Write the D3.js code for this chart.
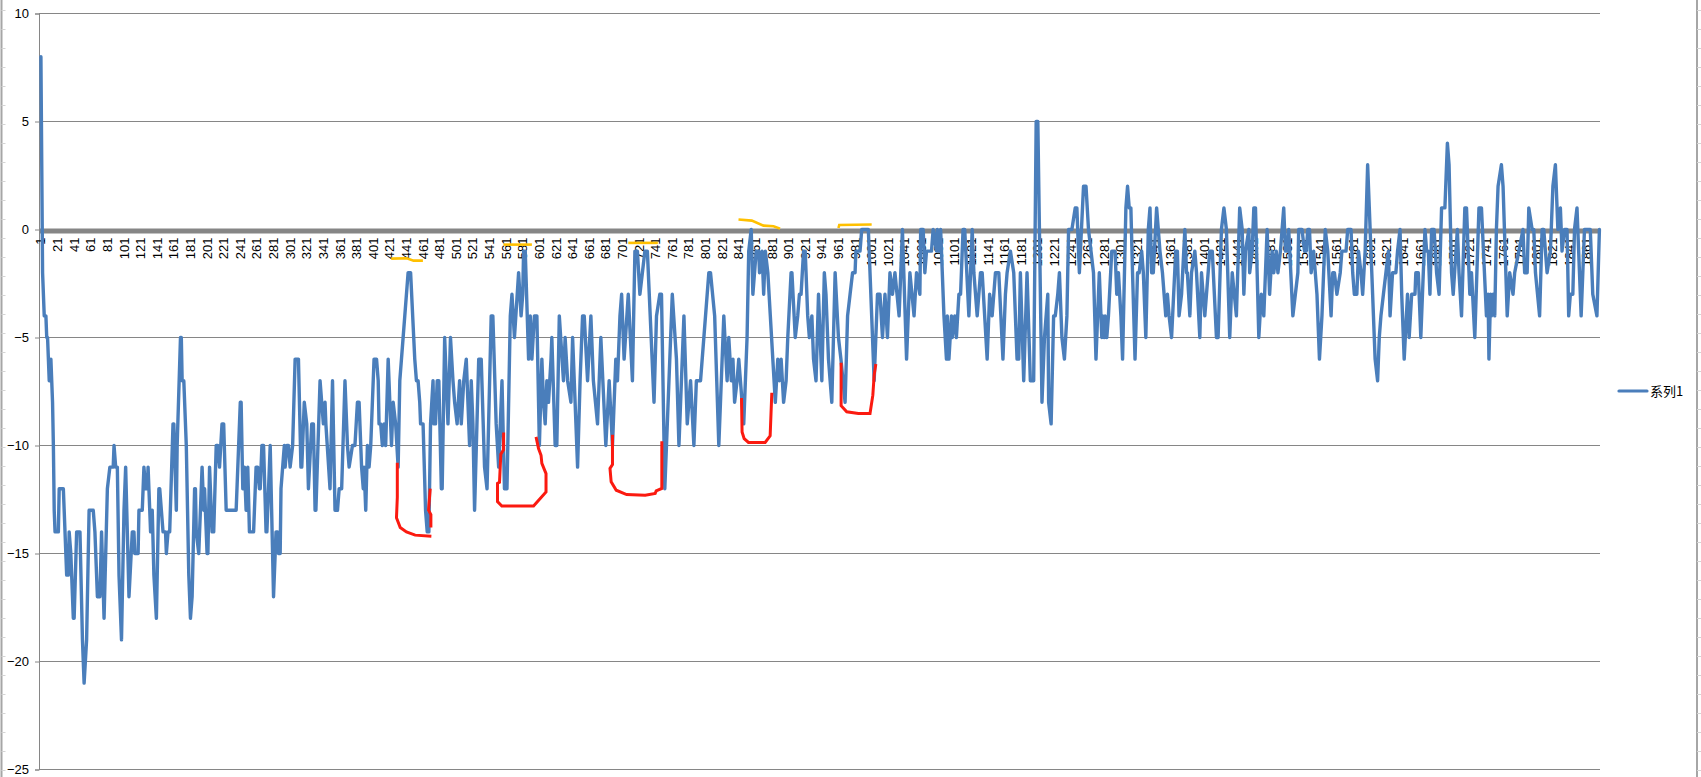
<!DOCTYPE html>
<html lang="zh">
    <head>
	<meta charset="utf-8">
	<title>系列1</title>
	<script type="text/javascript" src="https://d3js.org/d3.v7.min.js"></script>
	<style>
	 html, body { margin: 0; padding: 0; background: #fff; overflow: hidden; }
	 text { font-family: "Liberation Sans", "Noto Sans CJK SC", sans-serif; font-size: 13px; fill: #000; }
	</style>
    </head>
    <body>
	<script type="text/javascript">

	 //Values: the point number of each corner of the line, and its value there
	 const pointIndex = [1,3,5,7,8,9,10,11,13,15,16,17,18,22,23,28,32,34,35,37,40,41,44,48,51,53,56,59,64,66,69,72,74,77,81,84,88,89,91,93,95,98,101,103,107,111,113,114,118,119,123,125,127,129,130,133,135,137,140,143,144,146,148,151,152,154,156,160,161,164,165,169,170,171,173,176,179,181,183,186,187,188,191,193,195,197,198,201,202,204,207,209,212,214,216,219,221,224,236,241,242,244,246,248,250,252,257,260,262,264,265,267,269,272,273,277,281,284,286,287,289,290,294,295,297,299,301,304,307,311,314,315,318,321,323,327,329,331,332,337,339,341,343,344,349,352,355,358,360,363,367,370,372,376,379,382,384,387,389,390,392,394,396,398,402,405,407,408,410,412,414,416,419,421,423,425,428,431,433,437,439,443,446,
	     451,453,455,457,458,461,464,466,468,470,473,474,476,478,480,483,484,487,491,494,497,499,502,505,507,510,513,517,519,521,523,528,531,535,538,543,545,549,552,556,559,562,566,568,571,576,579,581,582,584,588,590,592,595,598,601,604,606,608,610,612,615,616,620,622,625,630,632,635,639,641,647,650,653,655,659,663,666,671,675,681,685,689,693,695,698,700,703,708,713,716,719,722,725,728,731,739,742,746,748,752,755,761,766,769,775,779,783,787,790,795,799,805,807,812,817,
	     823,827,829,832,834,836,839,841,843,847,851,853,856,858,860,862,865,866,869,871,873,876,879,882,885,888,890,892,895,898,900,904,905,909,912,914,916,919,921,924,926,929,931,934,937,941,944,946,949,953,957,961,964,969,972,975,978,981,982,987,989,997,1001,1004,1008,1011,1014,1017,1020,1023,1026,1029,1034,1038,1043,1047,1052,1055,1059,1060,1063,1065,1067,1073,1075,1079,1080,1082,1084,1088,1091,1092,1094,1097,1098,1101,1103,1106,1108,1111,1113,1118,1122,1124,1128,1132,1134,1140,1143,1146,1150,1154,1159,1162,1164,1168,1172,1176,1178,1180,1184,1188,1192,1196,1199,1201,1206,1209,1213,1214,1217,1220,1222,1225,1227,1230,1233,1236,1238,1242,1246,1248,1251,1256,1259,1262,1265,1268,1271,1275,
	     1278,1279,1281,1282,1284,1286,1290,1294,1296,1298,1301,1303,1307,1309,1311,1313,1315,1318,1321,1323,1326,1328,1331,1334,1336,1338,1340,1344,1346,1348,1351,1353,1355,1357,1359,1362,1367,1369,1371,1374,1378,1380,1381,1384,1386,1390,1392,1396,1398,1402,1404,1408,1411,1416,1418,1422,1425,1428,1432,1435,1440,1444,1447,1449,1451,1455,1456,1459,1461,1463,1467,1470,1473,1475,1477,1480,1483,1485,1488,1490,1493,1497,1499,1501,1503,1508,1511,1514,1515,1519,1522,1524,1526,1528,1530,1533,1537,1540,1543,1547,1550,1554,1556,1558,1561,1565,1567,1572,1574,1578,1580,1582,1585,1587,1590,1592,1595,1598,1600,1603,1607,1610,1612,1614,1617,1620,1623,1625,1628,1632,1634,1637,1639,1642,1646,1648,1651,1655,1656,1659,1662,1667,1669,1671,1673,1675,1678,1681,1684,1687,1691,1694,1696,1699,1701,1706,1708,1711,1715,1717,1721,1723,1727,1732,1735,1741,1743,1744,1746,1747,1749,1751,1753,1755,1759,1761,1766,1769,1773,1775,1780,1785,1787,1790,1792,1796,1798,1800,1805,1808,1810,1814,1818,1821,1824,1827,1830,1832,1835,1838,1840,1842,1845,1847,1850,1853,1855,1859,1866,1869,1874,1877];
	 const pointValue = [8,-2,-4,-4,-5,-5,-6,-7,-6,-8,-10,-13,-14,-14,-12,-12,-16,-16,-14,-15,-18,-18,-14,-14,-19,-21,-19,-13,-13,-14,-17,-17,-14,-18,-12,-11,-11,-10,-11,-11,-16,-19,-13,-11,-17,-14,-14,-15,-15,-13,-13,-11,-12,-12,-11,-14,-13,-16,-18,-12,-12,-13,-14,-14,-15,-14,-14,-9,-9,-13,-10,-5,-5,-7,-7,-10,-16,-18,-17,-12,-12,-14,-15,-13,-11,-13,-12,-15,-15,-11,-14,-14,-10,-10,-11,-9,-9,-13,-13,-8,-8,-12,-11,-13,-11,-14,-14,-11,-11,-12,-12,-10,-10,-14,-14,-10,-17,-14,-14,-15,-15,-12,-10,-11,-10,-10,-11,-10,-6,-6,-11,-11,-8,-9,-12,-9,-9,-13,-13,-7,-8,-9,-8,-9,-12,-7,-13,-13,-12,-12,-7,-10,-11,-10,-10,-8,-8,-11,-12,-11,-13,-10,-11,-10,-6,-6,-7,-9,-9,-10,-9,-10,-6,-8,-10,-8,-9,-11,-7,-5,-4,-2,-2,
	     -6,-7,-7,-8,-9,-9,-13,-14,-14,-9,-7,-9,-9,-7,-7,-12,-12,-5,-9,-5,-7,-8,-9,-7,-9,-7,-6,-10,-7,-9,-13,-6,-6,-11,-12,-4,-4,-9,-11,-7,-12,-12,-4,-3,-5,-2,-4,-3,-1,-1,-6,-4,-6,-4,-4,-10,-6,-8,-9,-7,-8,-6,-5,-10,-10,-4,-7,-5,-7,-8,-5,-11,-7,-4,-4,-7,-4,-7,-9,-5,-10,-7,-10,-6,-7,-4,-3,-6,-3,-7,-1,-1,-3,-2,-1,-1,-8,-4,-3,-3,-12,-9,-3,-6,-10,-4,-9,-7,-10,-7,-7,-5,-2,-2,-4,-10,
	     -4,-7,-5,-7,-6,-8,-7,-6,-7,-9,-5,-1,0,-3,-2,-1,-1,-2,-1,-3,-1,-2,-4,-6,-8,-6,-7,-6,-8,-7,-5,-2,-2,-5,-4,-3,-3,-1,-1,-4,-5,-4,-6,-7,-3,-7,-2,-3,-6,-8,-2,-5,-6,-8,-4,-3,-2,-2,-1,-1,0,0,-4,-7,-3,-3,-5,-3,-5,-2,-3,-2,-4,0,-6,-2,-4,-2,-3,0,0,-2,-1,-1,0,-1,0,-1,0,-4,-6,-4,-6,-4,-5,-4,-5,-3,-3,0,0,-4,0,-2,-4,-2,-2,-6,-3,-4,-2,-2,-6,-3,-2,-1,-2,-6,-6,-2,-7,-2,-7,-7,5,5,-8,-5,-3,-8,-9,-4,-4,-3,-2,-5,-6,-4,0,0,1,1,-2,2,2,0,-1,-2,-6,-2,
	     -5,-4,-5,-4,-5,-4,-1,-1,-3,-2,-4,-6,1,2,1,1,-2,-6,-2,-2,-1,-2,-5,0,1,-2,-2,1,0,-1,-2,-3,-4,-3,-4,-5,-1,-1,-4,-3,0,-2,-2,-4,-2,-1,-2,-5,-2,-4,-3,-1,-1,-5,-5,0,1,0,-5,-2,-4,1,0,-3,-1,0,-2,-1,1,1,-5,-3,-4,-2,0,-3,-1,-2,-1,-2,-1,1,-1,-1,0,-4,-3,-2,0,0,-1,-1,0,0,-2,-1,-3,-6,-4,0,-1,-4,-2,-2,-3,-2,-1,-1,0,0,-2,-3,-3,-1,-2,-3,-1,3,1,-2,-6,-7,-5,-4,-3,-2,-1,-4,-2,-2,-1,0,-3,-6,-3,-5,-3,-3,-2,-2,-5,0,-1,-1,-3,0,0,-2,-3,1,1,4,3,-2,-3,0,-2,-4,1,1,-3,-2,-5,1,1,-4,-3,-6,-3,-4,-3,-4,0,2,3,2,-4,-2,-3,-2,-1,0,-2,-2,1,0,0,-2,-4,0,0,-2,-1,2,3,0,1,-1,0,0,-4,-3,-3,0,1,-2,-4,0,0,-3,-4,0];

	 const categoryCount = 1879;
	 const seriesName = '系列1';
	 const yTicks = [10, 5, 0, -5, -10, -15, -20, -25];
	 const xTicks = d3.range(1, categoryCount, 20);

	 //Hand drawn marks on top of the chart, as [point number, value]
	 const redMarks = [
	     [[430,-10.8],[430,-12.4],[429,-13.35],[433.5,-13.8],[441,-14],[451.5,-14.15],[471,-14.2]],
	     [[469.6,-12],[467.6,-13],[470.4,-13.2],[470.4,-13.8]],
	     [[558,-9.4],[557.8,-10.2],[554.6,-10.4],[553,-11.7],[550.6,-11.75],[550.6,-12.6],[555.8,-12.8],[594,-12.8],[609,-12.15],[609,-11.3],[604,-10.83],[603,-10.45],[600,-10.14],[597,-9.6]],
	     [[689,-9.5],[689,-10.88],[686,-11.06],[687.4,-11.68],[693.5,-12.07],[706,-12.27],[728.4,-12.3],[740.4,-12.22],[741.6,-12.1],[748.4,-11.99],[748.4,-9.8]],
	     [[844.3,-7.8],[845,-9.37],[847.5,-9.68],[852.7,-9.86],[872.8,-9.86],[878.8,-9.55],[880.8,-7.56]],
	     [[964.2,-6.17],[964.2,-8.16],[971,-8.44],[985,-8.52],[999,-8.52],[1002.4,-7.67],[1004,-6.74],[1006,-6.23]]
	 ];
	 const orangeMarks = [
	     [[422.6,-1.35],[441.5,-1.33],[449.5,-1.44],[460.8,-1.44]],
	     [[557.8,-0.7],[592,-0.7]],
	     [[708,-0.62],[743.6,-0.62]],
	     [[840.7,0.46],[856.7,0.41],[870.8,0.18],[882.8,0.15],[890.8,0.04]],
	     [[961,0.07],[962,0.21],[1001,0.23]]
	 ];

	 //Display specs
	 const width = 1701;
	 const height = 777;
	 const plot = {left: 39, right: 1600, top: 13.5, bottom: 769.5};
	 const gray = '#868686';

	 //The line sits a little right of the axis frame
	 const xScale = d3.scaleLinear()
			  .domain([0.5, categoryCount + 0.5])
			  .range([plot.left + 1.5, plot.right + 1.5]);

	 const yScale = d3.scaleLinear()
			  .domain([-25, 10])
			  .range([plot.bottom, plot.top]);

	 const svg = d3.select('body')
		       .append('svg')
		       .attr('width', width)
		       .attr('height', height)
		       .style('display', 'block');

	 svg.append('rect')
	    .attr('width', width)
	    .attr('height', height)
	    .attr('fill', '#fff');

	 //Sheet edges either side of the chart
	 [1.5, 1697].forEach(function (x) {
	     svg.append('line')
		.attr('x1', x).attr('x2', x)
		.attr('y1', 0).attr('y2', height)
		.attr('stroke', '#a6a6a6')
		.attr('stroke-width', 2);
	     svg.selectAll(null)
		.data(d3.range(10, height, 19))
		.enter()
		.append('line')
		.attr('x1', x).attr('x2', x + 4)
		.attr('y1', d => d + 0.5).attr('y2', d => d + 0.5)
		.attr('stroke', '#d4d4d4');
	 });

	 //Value axis with gridlines
	 const yAxis = svg.append('g')
			  .attr('transform', 'translate(' + plot.left + ',0)')
			  .call(d3.axisLeft(yScale).tickValues(yTicks).tickSize(4).tickPadding(6));
	 yAxis.select('.domain').attr('stroke', gray);
	 yAxis.selectAll('.tick line').attr('stroke', gray);
	 yAxis.selectAll('.tick text').style('font-size', '13px').style('font-family', '"Liberation Sans", sans-serif');

	 svg.append('g')
	    .selectAll('line')
	    .data(yTicks.filter(d => d !== 0))
	    .enter()
	    .append('line')
	    .attr('x1', plot.left)
	    .attr('x2', plot.right)
	    .attr('y1', d => yScale(d))
	    .attr('y2', d => yScale(d))
	    .attr('stroke', gray)
	    .attr('stroke-width', 1);

	 //Thick zero line, category labels hang under it
	 svg.append('line')
	    .attr('x1', plot.left)
	    .attr('x2', plot.right)
	    .attr('y1', yScale(0) + 1.5)
	    .attr('y2', yScale(0) + 1.5)
	    .attr('stroke', gray)
	    .attr('stroke-width', 5);

	 const xAxis = svg.append('g')
			  .attr('transform', 'translate(0,' + (yScale(0) + 4) + ')')
			  .call(d3.axisBottom(xScale).tickValues(xTicks).tickSize(0).tickFormat(d3.format('d')));
	 xAxis.select('.domain').remove();
	 xAxis.selectAll('.tick text')
	      .attr('transform', 'rotate(-90)')
	      .attr('text-anchor', 'end')
	      .attr('x', -4)
	      .attr('y', -0.5)
	      .attr('dy', '0.35em')
	      .style('font-size', '13px')
	      .style('font-family', '"Liberation Sans", sans-serif');

	 //The series
	 const line = d3.line()
			.x(d => xScale(d))
			.y((d, i) => yScale(pointValue[i]));

	 svg.append('path')
	    .attr('d', line(pointIndex))
	    .attr('fill', 'none')
	    .attr('stroke', '#4a7ebb')
	    .attr('stroke-width', 3.4)
	    .attr('stroke-linejoin', 'round')
	    .attr('stroke-linecap', 'round');

	 //Hand drawn marks
	 const markLine = d3.line()
			    .x(d => xScale(d[0]))
			    .y(d => yScale(d[1]));

	 svg.selectAll('.red')
	    .data(redMarks)
	    .enter()
	    .append('path')
	    .attr('class', 'red')
	    .attr('d', markLine)
	    .attr('fill', 'none')
	    .attr('stroke', '#fb1a10')
	    .attr('stroke-width', 3);

	 svg.selectAll('.orange')
	    .data(orangeMarks)
	    .enter()
	    .append('path')
	    .attr('class', 'orange')
	    .attr('d', markLine)
	    .attr('fill', 'none')
	    .attr('stroke', '#ffc000')
	    .attr('stroke-width', 2.6);

	 //Legend
	 const legend = svg.append('g')
			   .attr('transform', 'translate(1619,391)');
	 legend.append('line')
	       .attr('x1', 0)
	       .attr('x2', 28)
	       .attr('stroke', '#4a7ebb')
	       .attr('stroke-width', 3.2)
	       .attr('stroke-linecap', 'round');
	 legend.append('text')
	       .attr('x', 31)
	       .attr('dy', '0.38em')
	       .style('font-family', '"Noto Sans CJK SC", sans-serif')
	       .text(seriesName);
	</script>
    </body>
</html>
